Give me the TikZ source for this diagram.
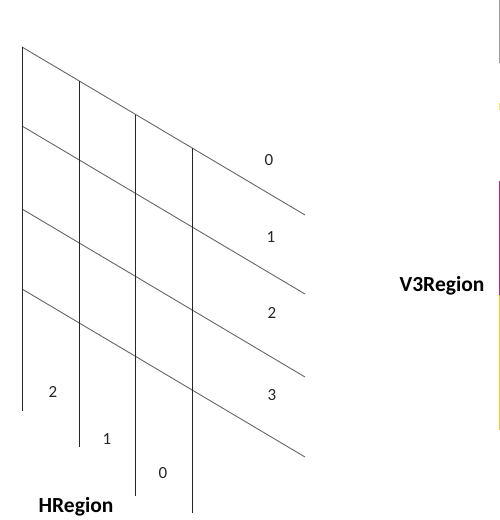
\documentclass[tikz,border=0pt]{standalone}
\usepackage{fontspec}
\setmainfont{Carlito}
\usetikzlibrary{positioning}
\definecolor{edgegray}{HTML}{9A9A9A}
\definecolor{edgelemon}{HTML}{F2EC5A}
\definecolor{edgemag}{HTML}{B4288C}
\definecolor{edgegold}{HTML}{F0C832}

\begin{document}
\begin{tikzpicture}[x=1pt, y=-1pt,
  rowline/.style={draw=black!60, line width=0.9pt},
  colline/.style={draw=black!85, line width=0.9pt},
  num/.style={font=\fontsize{17}{17}\selectfont, text=black!85, inner sep=0pt},
  region/.style={font=\fontsize{21.5}{21.5}\selectfont\bfseries, inner sep=0pt, anchor=base}]
\useasboundingbox (0,0) rectangle (500,520);
% slanted rows
\foreach \y in {47,126,209,289} \draw[rowline] (22,\y) -- (305,\y+168);
% columns
\foreach \x/\t/\b in {22/47/411, 79/81/447, 135/115/496, 192/148/513}
  \draw[colline] (\x,\t) -- (\x,\b);
% row numbers
\node[num] (v0) at (269,160) {0};
\node[num] (v1) at (271,237) {1};
\node[num] (v2) at (272,313) {2};
\node[num] (v3) at (272,395) {3};
% column numbers
\node[num] (h2) at (53,392) {2};
\node[num] (h1) at (107,439) {1};
\node[num] (h0) at (163,473) {0};
\node[region] (hreg) at (76,512) {HRegion};
\node[region] (vreg) at (442,291) {V3Region};
% strip at right edge
\draw[edgegray, line width=1pt] (499.5,0) -- (499.5,63);
\draw[edgelemon, line width=1pt] (499.5,103) -- (499.5,110);
\draw[edgemag, line width=1pt] (499.5,181) -- (499.5,295);
\draw[edgegold, line width=1pt] (499.5,295) -- (499.5,430);
\end{tikzpicture}
\end{document}
